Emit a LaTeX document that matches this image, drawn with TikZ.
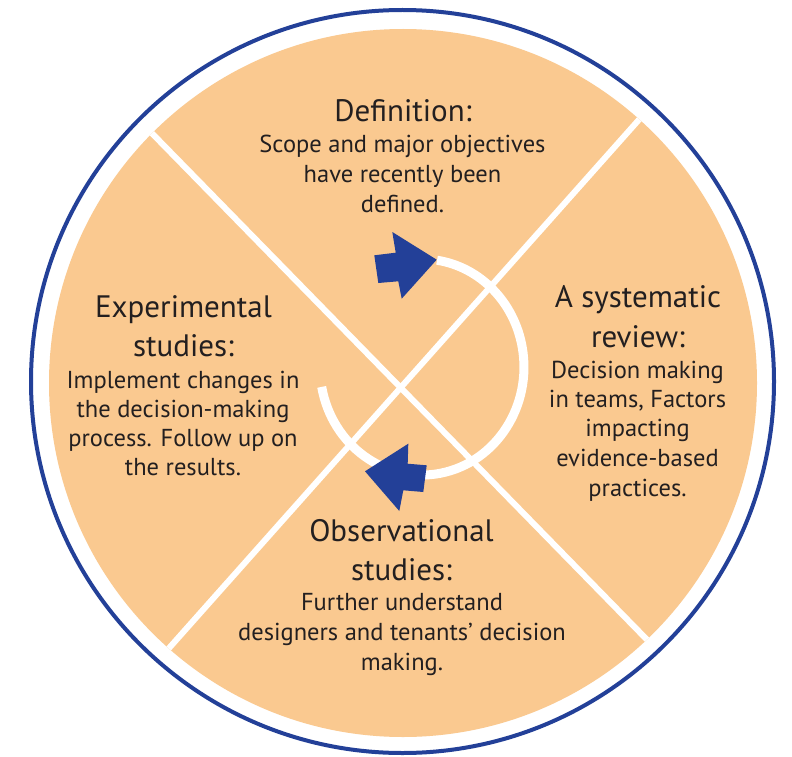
\documentclass[tikz,border=0pt]{standalone}
\usepackage{fontspec}
\setmainfont{PT Sans}
\definecolor{disc}{RGB}{250,201,144}
\definecolor{ringblue}{RGB}{35,64,152}
\definecolor{ink}{RGB}{35,31,32}
\begin{document}
\begin{tikzpicture}[x=1pt,y=-1pt,
  title/.style={anchor=base, inner sep=0pt, font=\fontsize{31}{31}\selectfont, text=ink},
  body/.style={anchor=base, inner sep=0pt, font=\fontsize{24.5}{24.5}\selectfont, text=ink},
  blockarrow/.style={fill=ringblue, draw=none},
  divider/.style={draw=white, line width=6pt},
  cyclearc/.style={draw=white, line width=9pt}]
\useasboundingbox (0,0) rectangle (792,757);
\fill[white] (0,0) rectangle (792,757);
\draw[ringblue, line width=4pt] (402.5,381.5) circle[radius=371.5];
\fill[disc] (403,383) circle[radius=354];
\begin{scope}
\clip (403,383) circle[radius=354];
\draw[divider] (138,119) -- (661,654);
\draw[divider] (652,105) -- (154,665);
\end{scope}
\draw[cyclearc] (321.7,386.9) arc[start angle=169.4, end angle=-81.5, x radius=102, y radius=108];
\fill[blockarrow] (436.7,259.7) -- (392.3,232) -- (395.7,252.7) -- (374.3,255.3) -- (378.3,283) -- (398.3,281.3) -- (401.7,298.7) -- cycle;
\fill[blockarrow] (365,471.3) -- (408.3,443.7) -- (407.7,463.7) -- (426.7,465.3) -- (423.3,492) -- (403.3,490.3) -- (399.3,511) -- cycle;
% Definition
\node[title] (defT) at (403,122) {Definition:};
\node[body] (defA) at (402.5,152) {Scope and major objectives};
\node[body] (defB) at (402.5,182) {have recently been};
\node[body] (defC) at (402.5,212) {defined.};
% Experimental
\node[title] (expT1) at (183.5,317) {Experimental};
\node[title] (expT2) at (183.5,356) {studies:};
\node[body] (expA) at (183,388) {Implement changes in};
\node[body] (expB) at (183,417) {the decision-making};
\node[body] (expC) at (183,446) {process. Follow up on};
\node[body] (expD) at (183,475) {the results.};
% Systematic review
\node[title] (sysT1) at (638,307) {A systematic};
\node[title] (sysT2) at (638,347) {review:};
\node[body] (sysA) at (637.5,378) {Decision making};
\node[body] (sysB) at (637.5,407) {in teams, Factors};
\node[body] (sysC) at (637.5,436) {impacting};
\node[body] (sysD) at (637.5,466) {evidence-based};
\node[body] (sysE) at (637.5,496) {practices.};
% Observational
\node[title] (obsT1) at (401.5,541) {Observational};
\node[title] (obsT2) at (401.5,580) {studies:};
\node[body] (obsA) at (402,610) {Further understand};
\node[body] (obsB) at (402,640) {designers and tenants’ decision};
\node[body] (obsC) at (402,670) {making.};
\end{tikzpicture}
\end{document}
